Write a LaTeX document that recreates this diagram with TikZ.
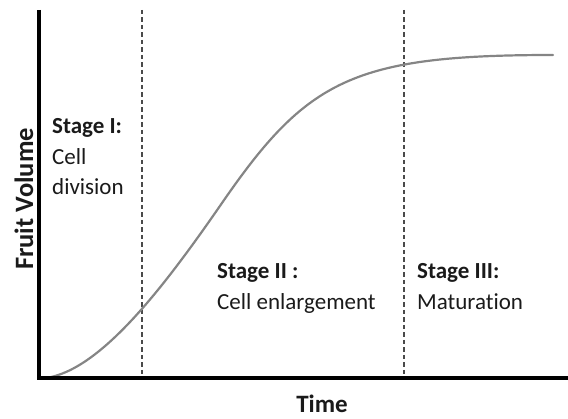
\documentclass[tikz,border=0pt]{standalone}
\usepackage{fontspec}
\setmainfont{Carlito}[Ligatures=NoCommon]
\definecolor{txt}{HTML}{1A1A1A}
\definecolor{curvegray}{HTML}{858585}
\definecolor{dashgray}{HTML}{4A4A4A}
\tikzset{
  axisline/.style={line width=3.6pt, black, line join=miter},
  stagedash/.style={line width=1.1pt, dashgray, dash pattern=on 4.5pt off 3pt},
  growth/.style={line width=2.2pt, curvegray, line cap=round},
  lbl/.style={inner sep=0pt, anchor=base west, font=\fontsize{23}{27}\selectfont, text=txt},
  axlbl/.style={inner sep=0pt, anchor=base, font=\fontsize{25}{29}\selectfont\bfseries, text=txt}
}
\begin{document}
\begin{tikzpicture}[x=1pt,y=-1pt]
\useasboundingbox (0,0) rectangle (568,419);
% dashed stage boundaries
\coordinate (d1t) at (142,10); \coordinate (d1b) at (142,378);
\coordinate (d2t) at (404,10); \coordinate (d2b) at (404,378);
\draw[stagedash] (d1t) -- (d1b);
\draw[stagedash] (d2t) -- (d2b);
% growth curve
\coordinate (c0) at (46,378);
\coordinate (cm) at (222,203);
\coordinate (c1) at (553,55);
\draw[growth] (c0) .. controls (100,370) and (162,290) .. (cm)
              .. controls (307,79.75) and (353,55) .. (c1);
% axes
\coordinate (ytop) at (39,10);
\coordinate (origin) at (39,378);
\coordinate (xend) at (568,378);
\draw[axisline] (ytop) -- (origin) -- (xend);
% labels
\node[lbl] (s1) at (52,134) {\bfseries Stage I:};
\node[lbl] (s1a) at (52,165) {Cell};
\node[lbl] (s1b) at (52,195) {division};
\node[lbl] (s2) at (217,279) {\bfseries Stage II :};
\node[lbl] (s2a) at (217,310) {Cell enlargement};
\node[lbl] (s3) at (417,279) {\bfseries Stage III:};
\node[lbl] (s3a) at (417,310) {Maturation};
\node[axlbl] (tx) at (322,413) {Time};
\node[axlbl, font=\fontsize{26.5}{30}\selectfont\bfseries, rotate=90] (fv) at (33,199) {Fruit Volume};
\end{tikzpicture}
\end{document}
